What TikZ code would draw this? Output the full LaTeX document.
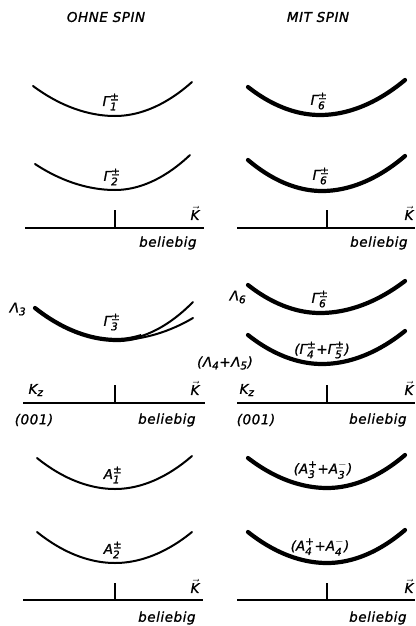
\documentclass[tikz,border=0pt]{standalone}
\usepackage{amsmath}
\usepackage{fontspec}
\setmainfont{DejaVu Sans}
\usepackage{tikz}
\newfontfamily\handfont[LetterSpace=4,FakeBold=1.2]{DejaVu Sans Oblique}
\DeclareMathSizes{13.5}{13.5}{10.5}{8}
\newcommand{\rep}[3]{$\text{#1}_{\text{#2}}^{\text{#3}}$}
\newcommand{\kvec}{$\vec{\text{K}}$}

\begin{document}
\begin{tikzpicture}[
  x=1pt,y=-1pt,
  font=\fontsize{13.5}{15}\handfont,
  band/.style={line width=2pt,line cap=round},
  bandspin/.style={line width=4.2pt,line cap=round},
  axisline/.style={line width=2pt},
  lab/.style={inner sep=0pt},
]
  \useasboundingbox (0,0) rectangle (415,626);

  % titles
  \node[lab] (tleft)  at (106,17) {OHNE SPIN};
  \node[lab] (tright) at (318,17) {MIT SPIN};

  % block 1: beliebig, without / with spin
  \draw[band] (33,86) parabola bend (115,116) (192,82);
  \node[lab] (g1) at (111,102) {\rep{Γ}{1}{±}};
  \draw[band] (35,164) parabola bend (115,190) (190,155);
  \node[lab] (g2) at (112,177) {\rep{Γ}{2}{±}};
  \draw[bandspin] (248,87) parabola bend (320,115) (405,80);
  \node[lab] (g6a) at (319,101) {\rep{Γ}{6}{±}};
  \draw[bandspin] (248,160) parabola bend (322,191) (405,156);
  \node[lab] (g6b) at (321,176) {\rep{Γ}{6}{±}};

  \draw[axisline] (25,228) -- (204,228);
  \draw[axisline] (115,228) -- (115,210);
  \node[lab] (k1l) at (195,213) {\kvec};
  \node[lab,anchor=west] (b1l) at (139,243) {beliebig};
  \draw[axisline] (237,228) -- (415,228);
  \draw[axisline] (327,228) -- (327,210);
  \node[lab] (k1r) at (409,213) {\kvec};
  \node[lab,anchor=west] (b1r) at (350,243) {beliebig};

  % block 2: k_z (001)
  \draw[band] (35,308) parabola bend (117,340) (193,302);
  \draw[band] (117,340) parabola (193,318);
  \begin{scope}
    \clip (0,280) rectangle (141,350);
    \draw[bandspin] (35,308) parabola bend (117,340) (193,302);
  \end{scope}
  \node[lab] (lam3) at (18,309) {Λ\textsubscript{3}};
  \node[lab] (g3) at (112,322) {\rep{Γ}{3}{±}};
  \draw[bandspin] (248,285) parabola bend (320,313) (405,281);
  \node[lab] (lam6) at (238,297) {Λ\textsubscript{6}};
  \node[lab] (g6c) at (320,299) {\rep{Γ}{6}{±}};
  \draw[bandspin] (248,335) parabola bend (322,364) (405,331);
  \node[lab] (g45) at (322,350) {(\rep{Γ}{4}{±}+\rep{Γ}{5}{±})};
  \node[lab] (lam45) at (225,363) {(Λ\textsubscript{4}+Λ\textsubscript{5})};

  \draw[axisline] (23,403) -- (205,403);
  \draw[axisline] (115,403) -- (115,385);
  \node[lab] (kz2l) at (36,390) {K\textsubscript{z}};
  \node[lab] (k2l) at (195,388) {\kvec};
  \node[lab] (o2l) at (34,420) {(001)};
  \node[lab,anchor=west] (b2l) at (138,420) {beliebig};
  \draw[axisline] (237,403) -- (415,403);
  \draw[axisline] (327,403) -- (327,385);
  \node[lab] (kz2r) at (247,390) {K\textsubscript{z}};
  \node[lab] (k2r) at (409,388) {\kvec};
  \node[lab] (o2r) at (256,420) {(001)};
  \node[lab,anchor=west] (b2r) at (349,420) {beliebig};

  % block 3: beliebig, A representations
  \draw[band] (37,458) parabola bend (115,489) (192,456);
  \node[lab] (a1) at (113,475) {\rep{A}{1}{±}};
  \draw[band] (37,532) parabola bend (115,563) (192,532);
  \node[lab] (a2) at (113,550) {\rep{A}{2}{±}};
  \draw[bandspin] (248,458) parabola bend (327,488) (405,455);
  \node[lab] (a33) at (323,470) {(\rep{A}{3}{+}+\rep{A}{3}{$-$})};
  \draw[bandspin] (248,532) parabola bend (327,563) (405,530);
  \node[lab] (a44) at (320,547) {(\rep{A}{4}{+}+\rep{A}{4}{$-$})};

  \draw[axisline] (23,600) -- (203,600);
  \draw[axisline] (115,600) -- (115,583);
  \node[lab] (k3l) at (195,586) {\kvec};
  \node[lab,anchor=west] (b3l) at (138,618) {beliebig};
  \draw[axisline] (237,600) -- (415,600);
  \draw[axisline] (327,600) -- (327,583);
  \node[lab] (k3r) at (409,586) {\kvec};
  \node[lab,anchor=west] (b3r) at (349,618) {beliebig};
\end{tikzpicture}
\end{document}
